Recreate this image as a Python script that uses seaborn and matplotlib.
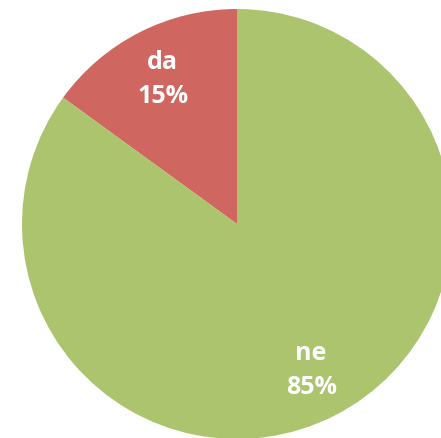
import matplotlib
matplotlib.use("Agg")
import matplotlib.pyplot as plt
import seaborn as sns

categories = ["da", "ne"]
values = [15, 85]
colors = ["#CF665F", "#ACC46E"]

sns.set_theme(style="white")
plt.rcParams['font.family'] = ['Open Sans', 'DejaVu Sans']

W, H = 441, 439
dpi = 100
fig = plt.figure(figsize=(W / dpi, H / dpi), dpi=dpi)
ax = fig.add_axes([0, 0, 1, 1])

cx, cy_top, r = 237, 225, 215
labels = [f"{c}\n{v}%" for c, v in zip(categories, values)]
wedges, texts = ax.pie(values, colors=colors, startangle=90, counterclock=True,
                       labels=labels, labeldistance=0.76,
                       textprops=dict(color="white", fontsize=18, fontweight="bold",
                                      ha="center", va="center", linespacing=1.45),
                       wedgeprops=dict(linewidth=0))
for t in texts:
    t.set_horizontalalignment("center")
    t.set_multialignment("center")

ax.set_xlim(-cx / r, (W - cx) / r)
ax.set_ylim(-(H - cy_top) / r, cy_top / r)
ax.set_aspect("equal")
ax.axis("off")
fig.savefig("out.png", dpi=dpi, facecolor="white")
